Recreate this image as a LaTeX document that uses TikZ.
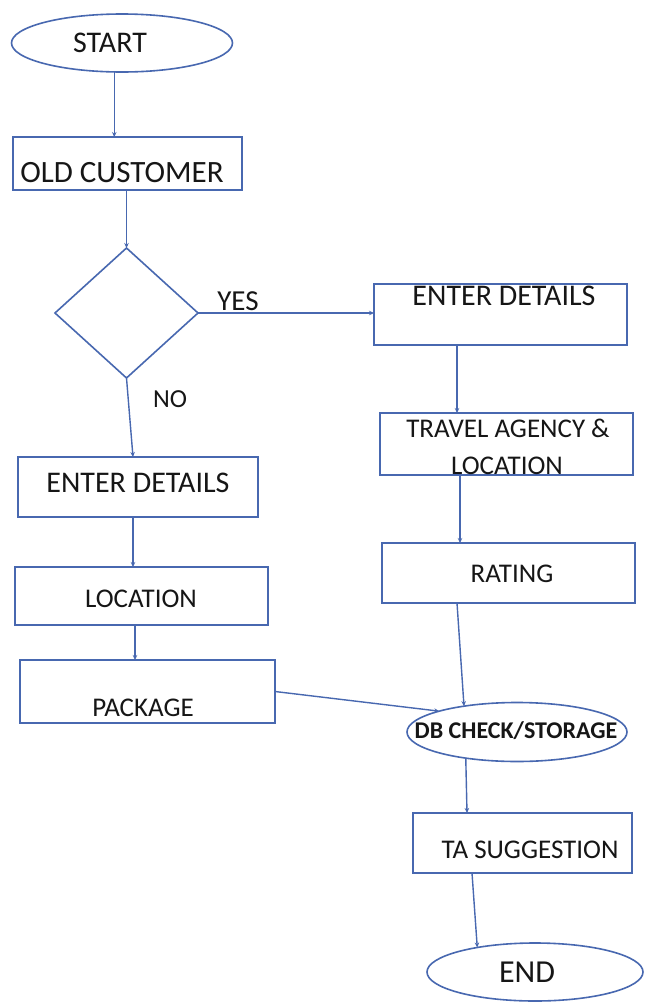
\documentclass[tikz,border=0pt]{standalone}
\usepackage{fontspec}
\setmainfont{Carlito}
\usetikzlibrary{shapes.geometric,arrows.meta}
\definecolor{flowline}{RGB}{72,104,176}
\definecolor{ink}{RGB}{22,22,22}
\tikzset{
  shapebase/.style={draw=flowline, line width=1.6pt, inner sep=0pt, outer sep=0pt, fill=white},
  box/.style={shapebase, rectangle},
  oval/.style={shapebase, ellipse},
  decide/.style={shapebase, diamond},
  txt/.style={anchor=base, inner sep=0pt, text=ink},
  arr/.style={draw=flowline, line width=1.4pt, -{Stealth[length=5pt,width=4.5pt]}}
}
\newcommand{\fs}[1]{\fontsize{#1}{#1}\selectfont}
\begin{document}
\begin{tikzpicture}[x=1pt,y=-1pt]
\useasboundingbox (0,0) rectangle (647,1002);
\fill[white] (0,0) rectangle (647,1002);

% shapes
\node[oval, minimum width=221pt, minimum height=58pt] (start) at (122,43) {};
\node[box, minimum width=229pt, minimum height=53pt] (old) at (127.5,163.5) {};
\node[decide, minimum width=143pt, minimum height=130pt] (dec) at (126.5,313) {};
\node[box, minimum width=253pt, minimum height=61pt] (edR) at (500.5,314.5) {};
\node[box, minimum width=253pt, minimum height=62pt] (trav) at (506.5,444) {};
\node[box, minimum width=253pt, minimum height=60pt] (rate) at (508.5,573) {};
\node[box, minimum width=240pt, minimum height=60pt] (edL) at (138,487) {};
\node[box, minimum width=253pt, minimum height=58pt] (locL) at (141.5,596) {};
\node[box, minimum width=255pt, minimum height=63pt] (pkg) at (147.5,691.5) {};
\node[oval, minimum width=220pt, minimum height=59pt] (db) at (517,732) {};
\node[box, minimum width=219pt, minimum height=60pt] (ta) at (522.5,843) {};
\node[oval, minimum width=216pt, minimum height=58pt] (fin) at (535,972) {};

% texts
\node[txt, font=\fs{30}] (startT) at (110,52) {START};
\node[txt, font=\fs{31}] (oldT) at (122,182) {OLD CUSTOMER};
\node[txt, font=\fs{29}] (yesT) at (238,310) {YES};
\node[txt, font=\fs{26}] (noT) at (170,407) {NO};
\node[txt, font=\fs{30}] (edRT) at (504,305) {ENTER DETAILS};
\node[txt, font=\fs{27}] (travT1) at (508,437) {TRAVEL AGENCY \&};
\node[txt, font=\fs{27}] (travT2) at (507,474) {LOCATION};
\node[txt, font=\fs{27}] (rateT) at (512,582) {RATING};
\node[txt, font=\fs{30}] (edLT) at (138,492) {ENTER DETAILS};
\node[txt, font=\fs{27}] (locLT) at (141,607) {LOCATION};
\node[txt, font=\fs{27}] (pkgT) at (143,716) {PACKAGE};
\node[txt, font=\bfseries\fs{24}] (dbT) at (516,738) {DB CHECK/STORAGE};
\node[txt, font=\fs{27}] (taT) at (530,858) {TA SUGGESTION};
\node[txt, font=\fs{32}] (finT) at (527,982) {END};

% connectors
\draw[arr] (start.-105) -- (start.-105 |- old.north);
\draw[arr] (dec.north |- old.south) -- (dec.north);
\draw[arr] (dec.east) -- (edR.west |- dec.east);
\draw[arr] (dec.south) -- ([xshift=-5pt]edL.north);
\draw[arr] ([xshift=-5pt]edL.south) -- ([xshift=-8.5pt]locL.north);
\draw[arr] ([xshift=-6.5pt]locL.south) -- ([xshift=-12.5pt]pkg.north);
\draw[arr] (pkg.east) -- (db.165);
\draw[arr] ([xshift=-43.5pt]edR.south) -- ([xshift=-49.5pt]trav.north);
\draw[arr] ([xshift=-46.5pt]trav.south) -- ([xshift=-48.5pt]rate.north);
\draw[arr] ([xshift=-51.5pt]rate.south) -- (db.154.5);
\draw[arr] (db.-153.4) -- ([xshift=-55.5pt]ta.north);
\draw[arr] ([xshift=-50.5pt]ta.south) -- (fin.157);
\end{tikzpicture}
\end{document}
